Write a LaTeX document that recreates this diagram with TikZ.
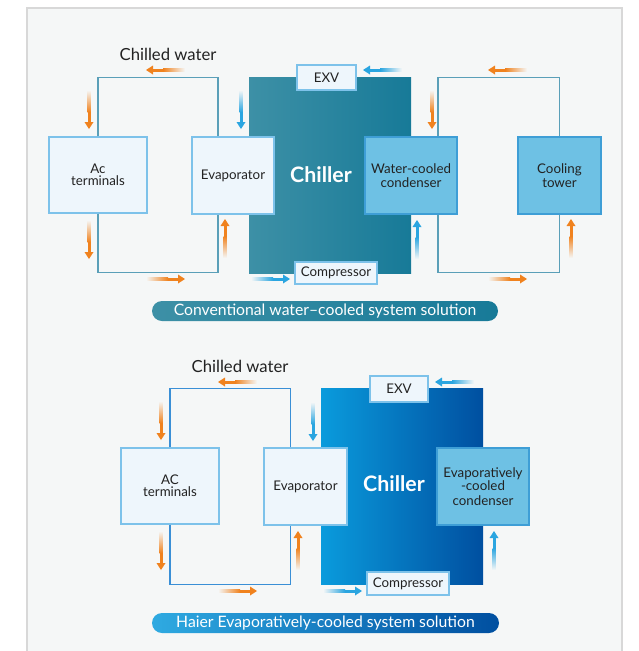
\documentclass[tikz,border=0pt]{standalone}
\usepackage{fontspec}
\setmainfont{Lato}
\usetikzlibrary{arrows.meta,calc,positioning}
\definecolor{panelbg}{HTML}{F5F7F7}
\definecolor{panelline}{HTML}{D8D8D8}
\definecolor{boxlight}{HTML}{EEF6FC}
\definecolor{boxline}{HTML}{7DC2EA}
\definecolor{boxmid}{HTML}{6EC1E4}
\definecolor{boxmidline}{HTML}{3E9ED6}
\definecolor{pipeteal}{HTML}{5A9FB8}
\definecolor{pipeblue}{HTML}{3A8FD6}
\definecolor{tealL}{HTML}{3D90A6}
\definecolor{tealR}{HTML}{177A98}
\definecolor{blueL}{HTML}{0A9BDC}
\definecolor{blueR}{HTML}{004FA0}
\definecolor{flowor}{HTML}{F0821E}
\definecolor{flowbl}{HTML}{2AA5E0}
\definecolor{txt}{HTML}{222222}

\begin{document}
\begin{tikzpicture}[x=0.75pt,y=-0.75pt,
    boxsize/.style 2 args={minimum width=#1*0.75pt, minimum height=#2*0.75pt},
    lightbox/.style={draw=boxline, fill=boxlight, line width=0.9pt, inner sep=0pt,
      align=center, text=txt, font=\fontsize{10}{9}\selectfont},
    midbox/.style={lightbox, draw=boxmidline, fill=boxmid},
    chillerbox/.style={inner sep=0pt, line width=0pt},
    pipe/.style={line width=1.1pt},
    % flow arrows, faded tail (y axis points down)
    flowR/.pic={
      \shade[left color=panelbg, right color=#1] (0,-1.5) rectangle (22,1.5);
      \fill[#1] (21.5,-1.5) rectangle (33,1.5);
      \fill[#1] (32,-4.5) -- (39,0) -- (32,4.5) -- cycle;
    },
    flowL/.pic={
      \shade[right color=panelbg, left color=#1] (0,-1.5) rectangle (-22,1.5);
      \fill[#1] (-21.5,-1.5) rectangle (-33,1.5);
      \fill[#1] (-32,-4.5) -- (-39,0) -- (-32,4.5) -- cycle;
    },
    flowD/.pic={
      \shade[top color=panelbg, bottom color=#1] (-1.5,0) rectangle (1.5,22);
      \fill[#1] (-1.5,21.5) rectangle (1.5,33);
      \fill[#1] (-4.5,32) -- (0,39) -- (4.5,32) -- cycle;
    },
    flowU/.pic={
      \shade[bottom color=panelbg, top color=#1] (-1.5,0) rectangle (1.5,-22);
      \fill[#1] (-1.5,-21.5) rectangle (1.5,-33);
      \fill[#1] (-4.5,-32) -- (0,-39) -- (4.5,-32) -- cycle;
    },
    banner/.style={rounded corners=7.5pt, minimum height=15pt, inner sep=0pt,
      text=white, font=\fontsize{11.8}{12}\selectfont}]
  \useasboundingbox (0,0) rectangle (639,651);
  % Panel
  \fill[panelbg] (27,8) rectangle (622,660);
  \draw[panelline, line width=1.2pt] (27,660) -- (27,8) -- (622,8) -- (622,660);

  %% Conventional water-cooled system
  \node[chillerbox, boxsize={162}{196}, left color=tealL, right color=tealR] (chillA) at (330,175) {};
  \node[font=\bfseries\fontsize{16}{16}\selectfont, text=white] (chillAtxt) at (321,175) {Chiller};
  \node[lightbox, boxsize={59}{25}] (exvA) at (326.5,77.5) {EXV};
  \node[lightbox, boxsize={82}{22}] (compA) at (336,273) {Compressor};
  \node[lightbox, boxsize={98}{76}] (acA) at (98,175) {Ac\\terminals};
  \node[lightbox, boxsize={82}{77}] (evapA) at (233,175.5) {Evaporator};
  \node[midbox, boxsize={92}{77}] (condA) at (411,175.5) {Water-cooled\\[2pt]condenser};
  \node[midbox, boxsize={83}{77}] (towerA) at (559.5,175.5) {Cooling\\[2pt]tower};
  \node[text=txt, font=\fontsize{12.5}{13}\selectfont] (cwA) at (168,54) {Chilled water};
  % Water loops
  \draw[pipe, pipeteal] (acA.north) -- ++(0,-59) -| ($(evapA.north)+(-15,0)$);
  \draw[pipe, pipeteal] (acA.south) -- ++(0,59) -| ($(evapA.south)+(-15,0)$);
  \draw[pipe, pipeteal] ($(condA.north)+(27,0)$) -- ++(0,-59) -| (towerA.north);
  \draw[pipe, pipeteal] ($(condA.south)+(27,0)$) -- ++(0,58) -| (towerA.south);
  % Water flow
  \pic at (185,70) {flowL=flowor};
  \pic at (89,90) {flowD=flowor};
  \pic at (89,220) {flowD=flowor};
  \pic at (225,258) {flowU=flowor};
  \pic at (146,279) {flowR=flowor};
  \pic at (527,70) {flowL=flowor};
  \pic at (432,90) {flowD=flowor};
  \pic at (571,258) {flowU=flowor};
  \pic at (488,279) {flowR=flowor};
  % Refrigerant flow
  \pic at (241,90) {flowD=flowbl};
  \pic at (251,279) {flowR=flowbl};
  \pic at (402,70) {flowL=flowbl};
  \pic at (417,259) {flowU=flowbl};
  \node[banner, minimum width=346*0.75pt, left color=tealL, right color=tealR] (solA) at (325,311)
    {Conventional water--cooled system solution};

  %% Haier evaporatively-cooled system
  \node[chillerbox, boxsize={162}{196}, left color=blueL, right color=blueR] (chillB) at (402,486) {};
  \node[font=\bfseries\fontsize{16}{16}\selectfont, text=white] (chillBtxt) at (394,484) {Chiller};
  \node[lightbox, boxsize={58}{26}] (exvB) at (399,389) {EXV};
  \node[lightbox, boxsize={82}{23}] (compB) at (408,583.5) {Compressor};
  \node[lightbox, boxsize={98}{76}] (acB) at (170,486) {AC\\terminals};
  \node[lightbox, boxsize={83}{77}] (evapB) at (305.5,486.5) {Evaporator};
  \node[midbox, boxsize={92}{77}] (condB) at (483,486.5) {Evaporatively\\-cooled\\[2pt]condenser};
  \node[text=txt, font=\fontsize{12.5}{13}\selectfont] (cwB) at (240,366) {Chilled water};
  % Water loop
  \draw[pipe, pipeblue] (acB.north) -- ++(0,-59) -| ($(evapB.north)+(-15,0)$);
  \draw[pipe, pipeblue] (acB.south) -- ++(0,60) -| ($(evapB.south)+(-15,0)$);
  % Water flow
  \pic at (257,382) {flowL=flowor};
  \pic at (161,401) {flowD=flowor};
  \pic at (161,531) {flowD=flowor};
  \pic at (298,570) {flowU=flowor};
  \pic at (218,591) {flowR=flowor};
  % Refrigerant flow
  \pic at (313,402) {flowD=flowbl};
  \pic at (323,591) {flowR=flowbl};
  \pic at (474,382) {flowL=flowbl};
  \pic at (494,570) {flowU=flowbl};
  \node[banner, minimum width=347*0.75pt, left color=blueL!85!white, right color=blueR] (solB) at (325.5,623)
    {Haier Evaporatively-cooled system solution};
\end{tikzpicture}
\end{document}
